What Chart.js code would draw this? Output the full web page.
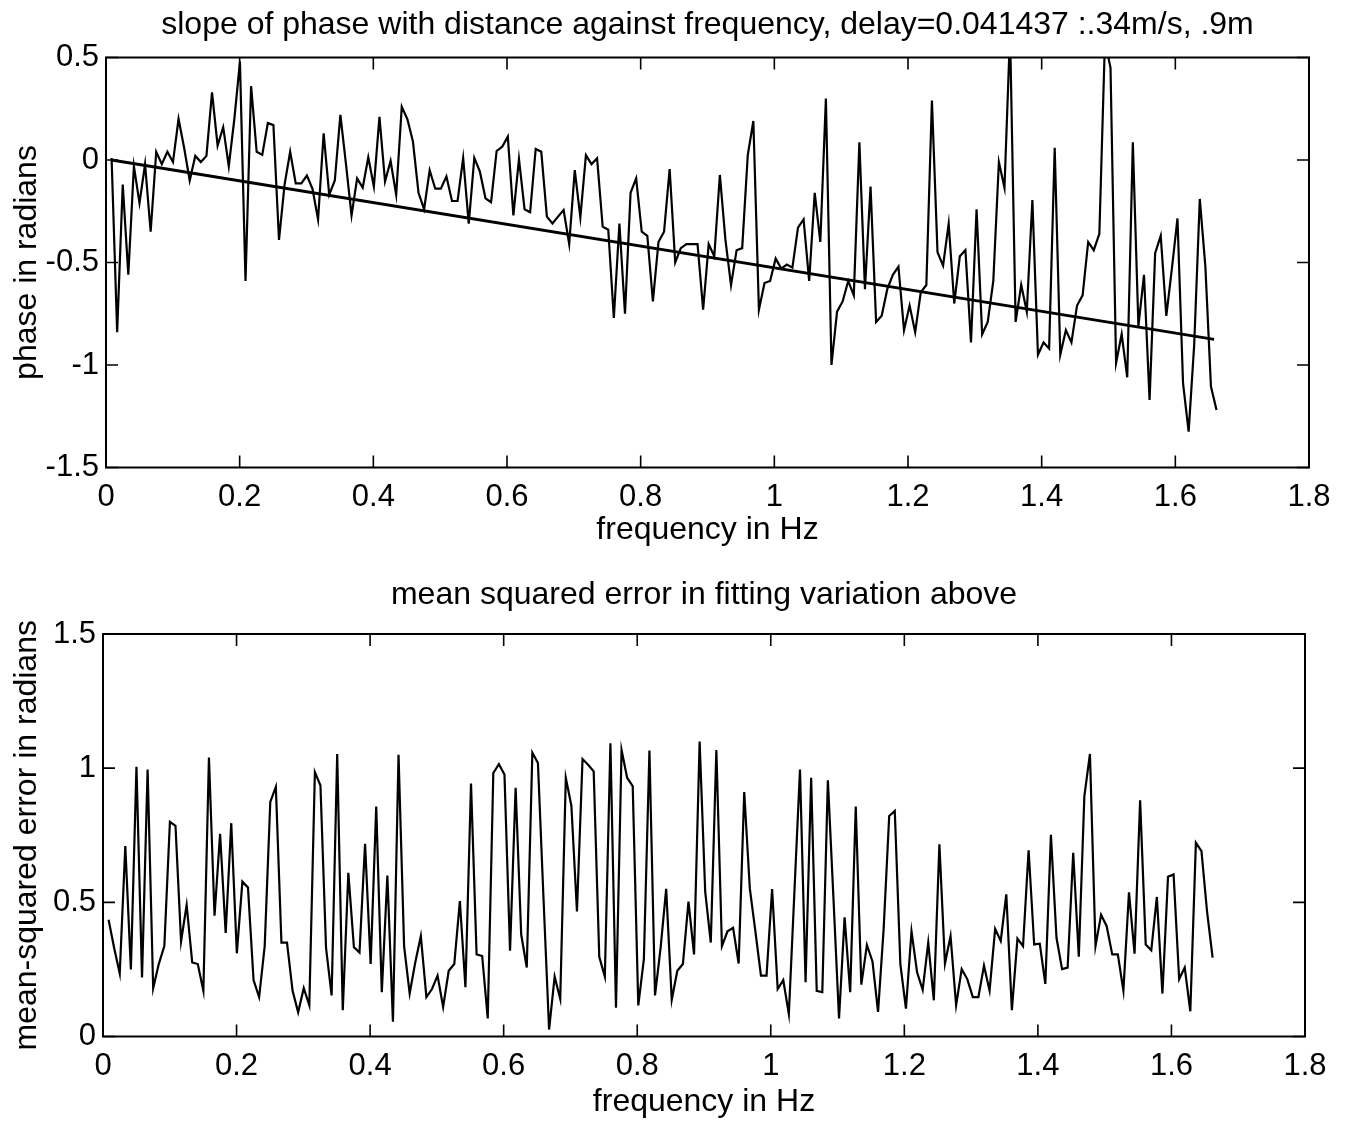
<!DOCTYPE html>
<html><head><meta charset="utf-8">
<script src="https://cdn.jsdelivr.net/npm/chart.js@4.4.1/dist/chart.umd.min.js"></script>
<style>
html,body{margin:0;padding:0;background:#fff;}
.box{position:absolute;left:0;width:1345px;}
</style></head><body>
<div class="box" style="top:0;height:565px"><canvas id="c1"></canvas></div>
<div class="box" style="top:565px;height:559px"><canvas id="c2"></canvas></div>
<script>
// ---------------- data ----------------
const FREQ_STEP = 0.00835; // Hz between samples
const phase = [
 0.01,-0.84,-0.12,-0.56,-0.03,-0.21,-0.02,-0.35,0.04,-0.02,0.04,-0.01,0.20,0.06,-0.10,0.02,-0.01,0.02,0.33,0.07,0.16,-0.03,0.20,0.48,-0.59,0.36,0.04,0.025,0.18,0.17,-0.39,-0.12,0.04,
 -0.114,-0.114,-0.076,-0.14,-0.29,0.13,-0.17,-0.10,0.22,-0.02,-0.27,-0.09,-0.135,0.013,-0.13,0.21,-0.105,-0.005,-0.17,0.26,0.20,0.09,-0.16,-0.24,-0.05,-0.14,-0.14,-0.08,-0.20,-0.20,0.01,-0.31,0.01,
 -0.057,-0.187,-0.206,0.044,0.065,0.114,-0.27,0.005,-0.24,-0.255,0.054,0.04,-0.276,-0.31,-0.276,-0.244,-0.41,-0.049,-0.28,0.024,-0.02,0.008,-0.325,-0.34,-0.77,-0.31,-0.75,-0.16,-0.09,-0.35,-0.37,-0.69,-0.40,
 -0.35,-0.044,-0.50,-0.43,-0.41,-0.41,-0.41,-0.73,-0.41,-0.47,-0.073,-0.39,-0.61,-0.44,-0.43,0.024,0.19,-0.73,-0.60,-0.59,-0.48,-0.53,-0.51,-0.525,-0.33,-0.29,-0.59,-0.16,-0.40,0.30,-1.0,-0.74,-0.69,-0.59,
 -0.66,0.086,-0.63,-0.13,-0.79,-0.76,-0.63,-0.56,-0.52,-0.83,-0.71,-0.84,-0.645,-0.61,0.29,-0.45,-0.515,-0.31,-0.70,-0.47,-0.44,-0.89,-0.24,-0.85,-0.79,-0.59,-0.01,-0.135,0.62,-0.79,-0.61,-0.74,-0.195,
 -0.95,-0.89,-0.92,0.06,-0.95,-0.83,-0.89,-0.71,-0.66,-0.40,-0.44,-0.36,0.58,0.45,-0.99,-0.85,-1.06,0.086,-0.81,-0.56,-1.17,-0.455,-0.37,-0.76,-0.53,-0.285,-1.09,-1.325,-0.90,-0.19,-0.52,-1.105,-1.22
];
const fitFreq = [0.0083, 1.658];
const fitPhase = [0.0, -0.875];
const mse = [
 0.435,0.33,0.235,0.71,0.25,1.005,0.22,0.995,0.18,0.27,0.337,0.80,0.785,0.355,0.49,0.276,0.27,0.17,1.04,0.45,0.755,0.386,0.795,0.31,0.577,0.555,0.21,0.147,0.337,0.874,0.93,0.35,0.35,
 0.17,0.09,0.18,0.116,0.985,0.935,0.33,0.153,1.053,0.098,0.61,0.333,0.313,0.718,0.27,0.857,0.165,0.60,0.055,1.05,0.337,0.16,0.276,0.374,0.147,0.177,0.227,0.11,0.245,0.27,0.505,0.184,0.943,0.306,
 0.30,0.067,0.982,1.015,0.976,0.32,0.927,0.38,0.257,1.058,1.019,0.515,0.026,0.223,0.14,0.964,0.86,0.466,1.034,1.013,0.988,0.297,0.223,1.093,0.107,1.068,0.964,0.933,0.116,0.288,1.066,0.153,0.33,
 0.55,0.137,0.245,0.27,0.503,0.306,1.099,0.54,0.35,1.068,0.337,0.392,0.405,0.272,0.911,0.552,0.392,0.227,0.227,0.549,0.177,0.21,0.083,0.54,0.995,0.202,0.964,0.17,0.165,0.955,0.515,0.067,0.444,
 0.165,0.857,0.193,0.341,0.28,0.092,0.40,0.822,0.841,0.27,0.104,0.392,0.239,0.174,0.35,0.135,0.716,0.272,0.374,0.116,0.251,0.214,0.147,0.147,0.264,0.171,0.401,0.356,0.53,0.098,0.365,0.337,0.694,0.343,
 0.346,0.196,0.752,0.368,0.251,0.257,0.685,0.297,0.896,1.053,0.337,0.454,0.411,0.306,0.306,0.171,0.537,0.309,0.88,0.343,0.321,0.52,0.16,0.595,0.604,0.214,0.257,0.094,0.722,0.691,0.466,0.294
];
const xTickValues = [0,0.2,0.4,0.6,0.8,1,1.2,1.4,1.6,1.8];
const xTickLabels = ['0','0.2','0.4','0.6','0.8','1','1.2','1.4','1.6','1.8'];
const phaseTickValues = [-1.5,-1,-0.5,0,0.5];
const phaseTickLabels = ['-1.5','-1','-0.5','0','0.5'];
const mseTickValues = [0,0.5,1,1.5];
const mseTickLabels = ['0','0.5','1','1.5'];

// ---------------- drawing ----------------
const FAMILY = '"Liberation Sans", Arial, Helvetica, sans-serif';
const freqOf = i => (i + 1) * FREQ_STEP;

const boxTicks = {
  id: 'boxTicks',
  afterDatasetsDraw(chart) {
    const {ctx, chartArea: a, scales: {x, y}} = chart;
    ctx.save();
    ctx.strokeStyle = '#000';
    ctx.lineWidth = 2;
    ctx.strokeRect(a.left, a.top, a.right - a.left, a.bottom - a.top);
    ctx.lineWidth = 1.6;
    const L = 12;
    ctx.beginPath();
    x.ticks.forEach(t => {
      const px = x.getPixelForValue(t.value);
      ctx.moveTo(px, a.bottom); ctx.lineTo(px, a.bottom - L);
      ctx.moveTo(px, a.top); ctx.lineTo(px, a.top + L);
    });
    y.ticks.forEach(t => {
      const py = y.getPixelForValue(t.value);
      ctx.moveTo(a.left, py); ctx.lineTo(a.left + L, py);
      ctx.moveTo(a.right, py); ctx.lineTo(a.right - L, py);
    });
    ctx.stroke();
    ctx.restore();
  }
};

function makeChart(id, o) {
  return new Chart(document.getElementById(id), {
    type: 'line',
    data: { datasets: o.datasets },
    plugins: [boxTicks],
    options: {
      responsive: true, maintainAspectRatio: false, animation: false,
      layout: { padding: { top: 0, left: 0, bottom: 0, right: o.padRight } },
      elements: { point: { radius: 0 }, line: { tension: 0 } },
      plugins: {
        legend: { display: false }, tooltip: { enabled: false },
        title: { display: true, text: o.title, color: '#000', fullSize: false,
          font: { family: FAMILY, size: 32, weight: 'normal' }, padding: o.titlePad }
      },
      scales: {
        x: {
          type: 'linear', min: 0, max: 1.8,
          afterBuildTicks: s => { s.ticks = xTickValues.map(v => ({ value: v })); },
          afterFit: s => { s.height = o.xHeight; },
          grid: { display: false, drawTicks: false }, border: { display: false },
          ticks: { color: '#000', font: { family: FAMILY, size: 31 }, padding: 11,
            maxRotation: 0, autoSkip: false, callback: (v, i) => xTickLabels[i] },
          title: { display: true, text: 'frequency in Hz', color: '#000',
            font: { family: FAMILY, size: 32 }, padding: { top: 0, bottom: o.xTitleBottom } }
        },
        y: {
          type: 'linear', min: o.yMin, max: o.yMax,
          afterBuildTicks: s => { s.ticks = o.yTicks.map(v => ({ value: v })); },
          afterFit: s => { s.width = o.yWidth; },
          grid: { display: false, drawTicks: false }, border: { display: false },
          ticks: { color: '#000', font: { family: FAMILY, size: 31 }, padding: 7,
            autoSkip: false, callback: (v, i) => o.yLabels[i] },
          title: { display: true, text: o.yTitle, color: '#000',
            font: { family: FAMILY, size: 32 }, padding: { top: 7.8, bottom: 0 } }
        }
      }
    }
  });
}

makeChart('c1', {
  title: 'slope of phase with distance against frequency, delay=0.041437 :.34m/s, .9m',
  titlePad: { top: 5.8, bottom: 13.3 },
  padRight: 36, xHeight: 97.5, xTitleBottom: 15.8, yWidth: 106,
  yMin: -1.5, yMax: 0.5, yTicks: phaseTickValues, yLabels: phaseTickLabels,
  yTitle: 'phase in radians',
  datasets: [
    { data: phase.map((v, i) => ({ x: freqOf(i), y: v })), borderColor: '#000', borderWidth: 2.2, clip: 0 },
    { data: fitFreq.map((f, i) => ({ x: f, y: fitPhase[i] })), borderColor: '#000', borderWidth: 2.8, clip: 0 }
  ]
});

makeChart('c2', {
  title: 'mean squared error in fitting variation above',
  titlePad: { top: 10.8, bottom: 19.8 },
  padRight: 40, xHeight: 87.5, xTitleBottom: 2.8, yWidth: 103,
  yMin: 0, yMax: 1.5, yTicks: mseTickValues, yLabels: mseTickLabels,
  yTitle: 'mean-squared error in radians',
  datasets: [
    { data: mse.map((v, i) => ({ x: freqOf(i), y: v })), borderColor: '#000', borderWidth: 2.2, clip: 0 }
  ]
});
</script>
</body></html>
